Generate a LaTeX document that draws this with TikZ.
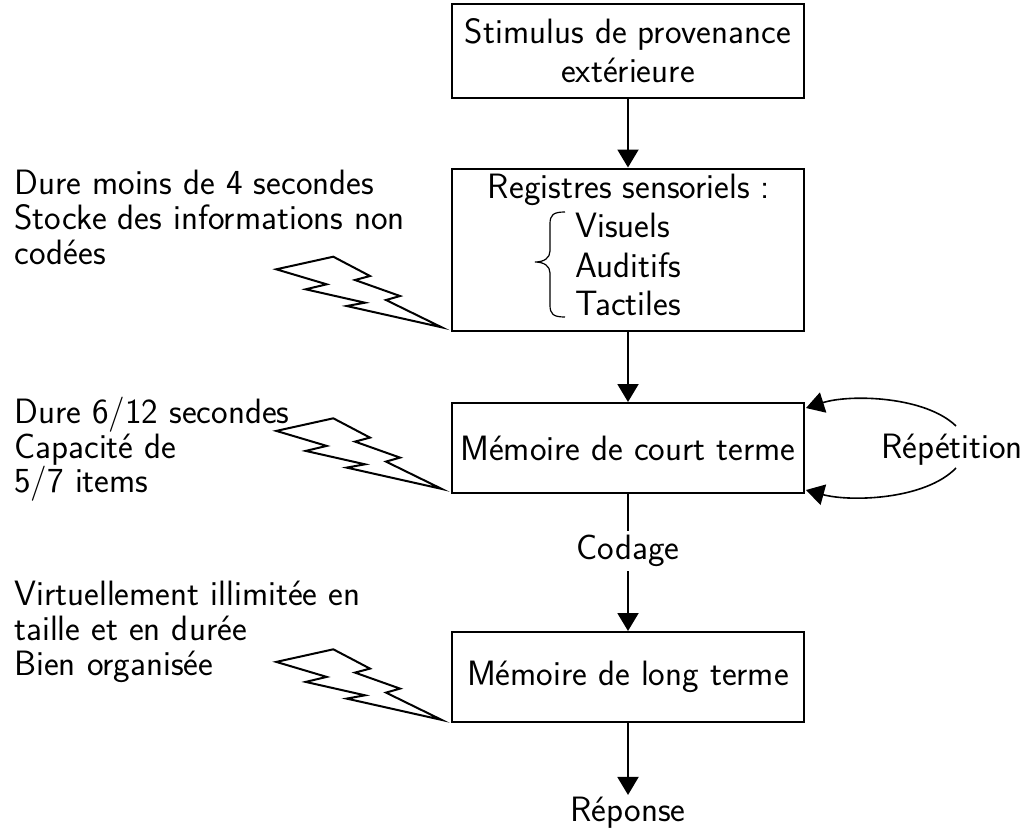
\documentclass[tikz,border=0pt]{standalone}
\usetikzlibrary{arrows.meta}
\begin{document}
\begin{tikzpicture}[x=0.5pt,y=-0.5pt,
  every node/.style={font=\fontsize{17.6}{19.5}\selectfont\sffamily},
  box/.style={draw,line width=1pt,minimum width=176pt,inner sep=0pt},
  txt/.style={inner sep=0pt,anchor=base west},
  flow/.style={line width=1pt,-{Triangle[length=9pt,width=10.5pt]}},
  loopline/.style={line width=0.8pt,-{Triangle[length=9pt,width=10.5pt]}},
  bolt/.style={line width=1pt,line join=miter}]
\useasboundingbox (0,0) rectangle (1034,831);

% boxes
\node[box,minimum height=47pt,align=center] (stim) at (628,51) {Stimulus de provenance\\extérieure};
\node[box,minimum height=81pt] (reg) at (628,249.5) {};
\node[box,minimum height=45pt] (mct) at (628,448) {Mémoire de court terme};
\node[box,minimum height=45pt] (mlt) at (628,677) {Mémoire de long terme};

% contents of the sensory register box
\node[inner sep=0pt,anchor=base] (regtitle) at (629,198) {Registres sensoriels :};
\node[txt] (vis) at (575,237) {Visuels};
\node[txt] (aud) at (575,277) {Auditifs};
\node[txt] (tac) at (575,315) {Tactiles};
\draw[line width=0.6pt] (565,212) .. controls (553,212) and (550,215) .. (550,224)
  -- (550,251) .. controls (550,258) and (544,262) .. (535,262)
  .. controls (544,262) and (550,266) .. (550,273)
  -- (550,305) .. controls (550,314) and (553,317) .. (565,317);

% free labels
\node[inner sep=0pt] (codage) at (628,551) {Codage};
\node[inner sep=0pt] (rep) at (628,813) {Réponse};
\node[inner sep=0pt] (repet) at (952,450) {Répétition};

% left annotations
\node[txt] (n1a) at (14,194) {Dure moins de 4 secondes};
\node[txt] (n1b) at (14,229) {Stocke des informations non};
\node[txt] (n1c) at (14,264) {codées};
\node[txt] (n2a) at (14,423) {Dure 6/12 secondes};
\node[txt] (n2b) at (14,458) {Capacité de};
\node[txt] (n2c) at (14,492) {5/7 items};
\node[txt] (n3a) at (14,605) {Virtuellement illimitée en};
\node[txt] (n3b) at (14,640) {taille et en durée};
\node[txt] (n3c) at (14,675) {Bien organisée};

% vertical flow
\draw[flow] (stim.south) -- (reg.north);
\draw[flow] (reg.south) -- (mct.north);
\draw[line width=1pt] (mct.south) -- ([yshift=2pt]codage.north);
\draw[flow] ([yshift=-2pt]codage.south) -- (mlt.north);
\draw[flow] (mlt.south) -- ([yshift=1pt]rep.north);

% rehearsal loop
\coordinate (loopin) at (806,408);
\coordinate (loopout) at (806,490);
\draw[loopline] (956,426) .. controls (925,396) and (850,394) .. (loopin);
\draw[loopline] (956,468) .. controls (925,500) and (850,502) .. (loopout);

% lightning bolts
\foreach \t in {256.7,418.3,649.3}{
  \draw[bolt] (333.3,\t) -- ++(36.7,19.3) -- ++(-15,4) -- ++(45,16) -- ++(-14,4)
    -- ++(55.7,27.3) -- ++(-95,-21.3) -- ++(18.3,-3.3) -- ++(-59.3,-13.4)
    -- ++(21,-5) -- ++(-50.4,-15) -- cycle;
}
\end{tikzpicture}
\end{document}
